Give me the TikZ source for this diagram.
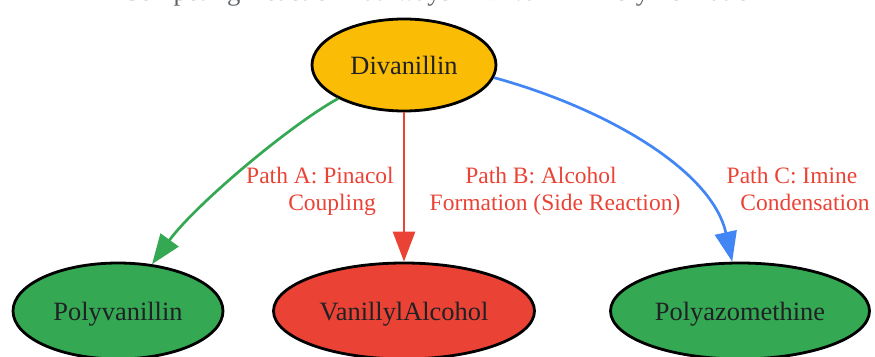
\documentclass[tikz,border=0pt]{standalone}
\usepackage{fontspec}
\setmainfont{Liberation Serif}
\usetikzlibrary{shapes.geometric,arrows.meta}
\definecolor{gyellow}{HTML}{FBBC05}
\definecolor{ggreen}{HTML}{34A853}
\definecolor{gred}{HTML}{EA4335}
\definecolor{gblue}{HTML}{4285F4}
\definecolor{gtext}{HTML}{202124}
\definecolor{gtitle}{HTML}{5F6368}
\tikzset{
  chem/.style={ellipse, draw=black, line width=2.8pt, inner sep=0pt,
    text=gtext, font=\fontsize{26.4}{30}\selectfont, text height=18pt, text depth=0pt},
  lbl/.style={text=gred, font=\fontsize{23.5}{27}\selectfont, inner sep=0pt, anchor=base},
  edge/.style={line width=2.7pt, -{Triangle[length=30pt,width=22pt]}}
}
\begin{document}
\begin{tikzpicture}[x=1pt,y=-1pt]
\useasboundingbox (0,0) rectangle (875,356);
\node[text=gtitle, font=\fontsize{26.7}{30}\selectfont, anchor=base, inner sep=0pt] (title) at (442.5,1) {Competing Reaction Pathways in Divanillin Polymerization};
\node[chem, fill=gyellow, minimum width=184pt, minimum height=92pt] (div) at (404,65) {Divanillin};
\node[chem, fill=ggreen, minimum width=210pt, minimum height=96pt] (pv) at (118,311) {Polyvanillin};
\node[chem, fill=gred, minimum width=261pt, minimum height=96pt] (va) at (404,311) {VanillylAlcohol};
\node[chem, fill=ggreen, minimum width=259pt, minimum height=96pt] (pa) at (740,311) {Polyazomethine};
\draw[edge, ggreen] (div.207.6) .. controls (290,125) and (195,205) .. (pv.54.6);
\draw[edge, gred] (div.south) -- (va.north);
\draw[edge, gblue] (div.352.3) .. controls (605,108) and (712,170) .. (pa.99.5);
\node[lbl] (la1) at (320,183) {Path A: Pinacol};
\node[lbl] (la2) at (332,210) {Coupling};
\node[lbl] (lb1) at (541,183) {Path B: Alcohol};
\node[lbl] (lb2) at (555,210) {Formation (Side Reaction)};
\node[lbl] (lc1) at (792,183) {Path C: Imine};
\node[lbl] (lc2) at (805,210) {Condensation};
\end{tikzpicture}
\end{document}
